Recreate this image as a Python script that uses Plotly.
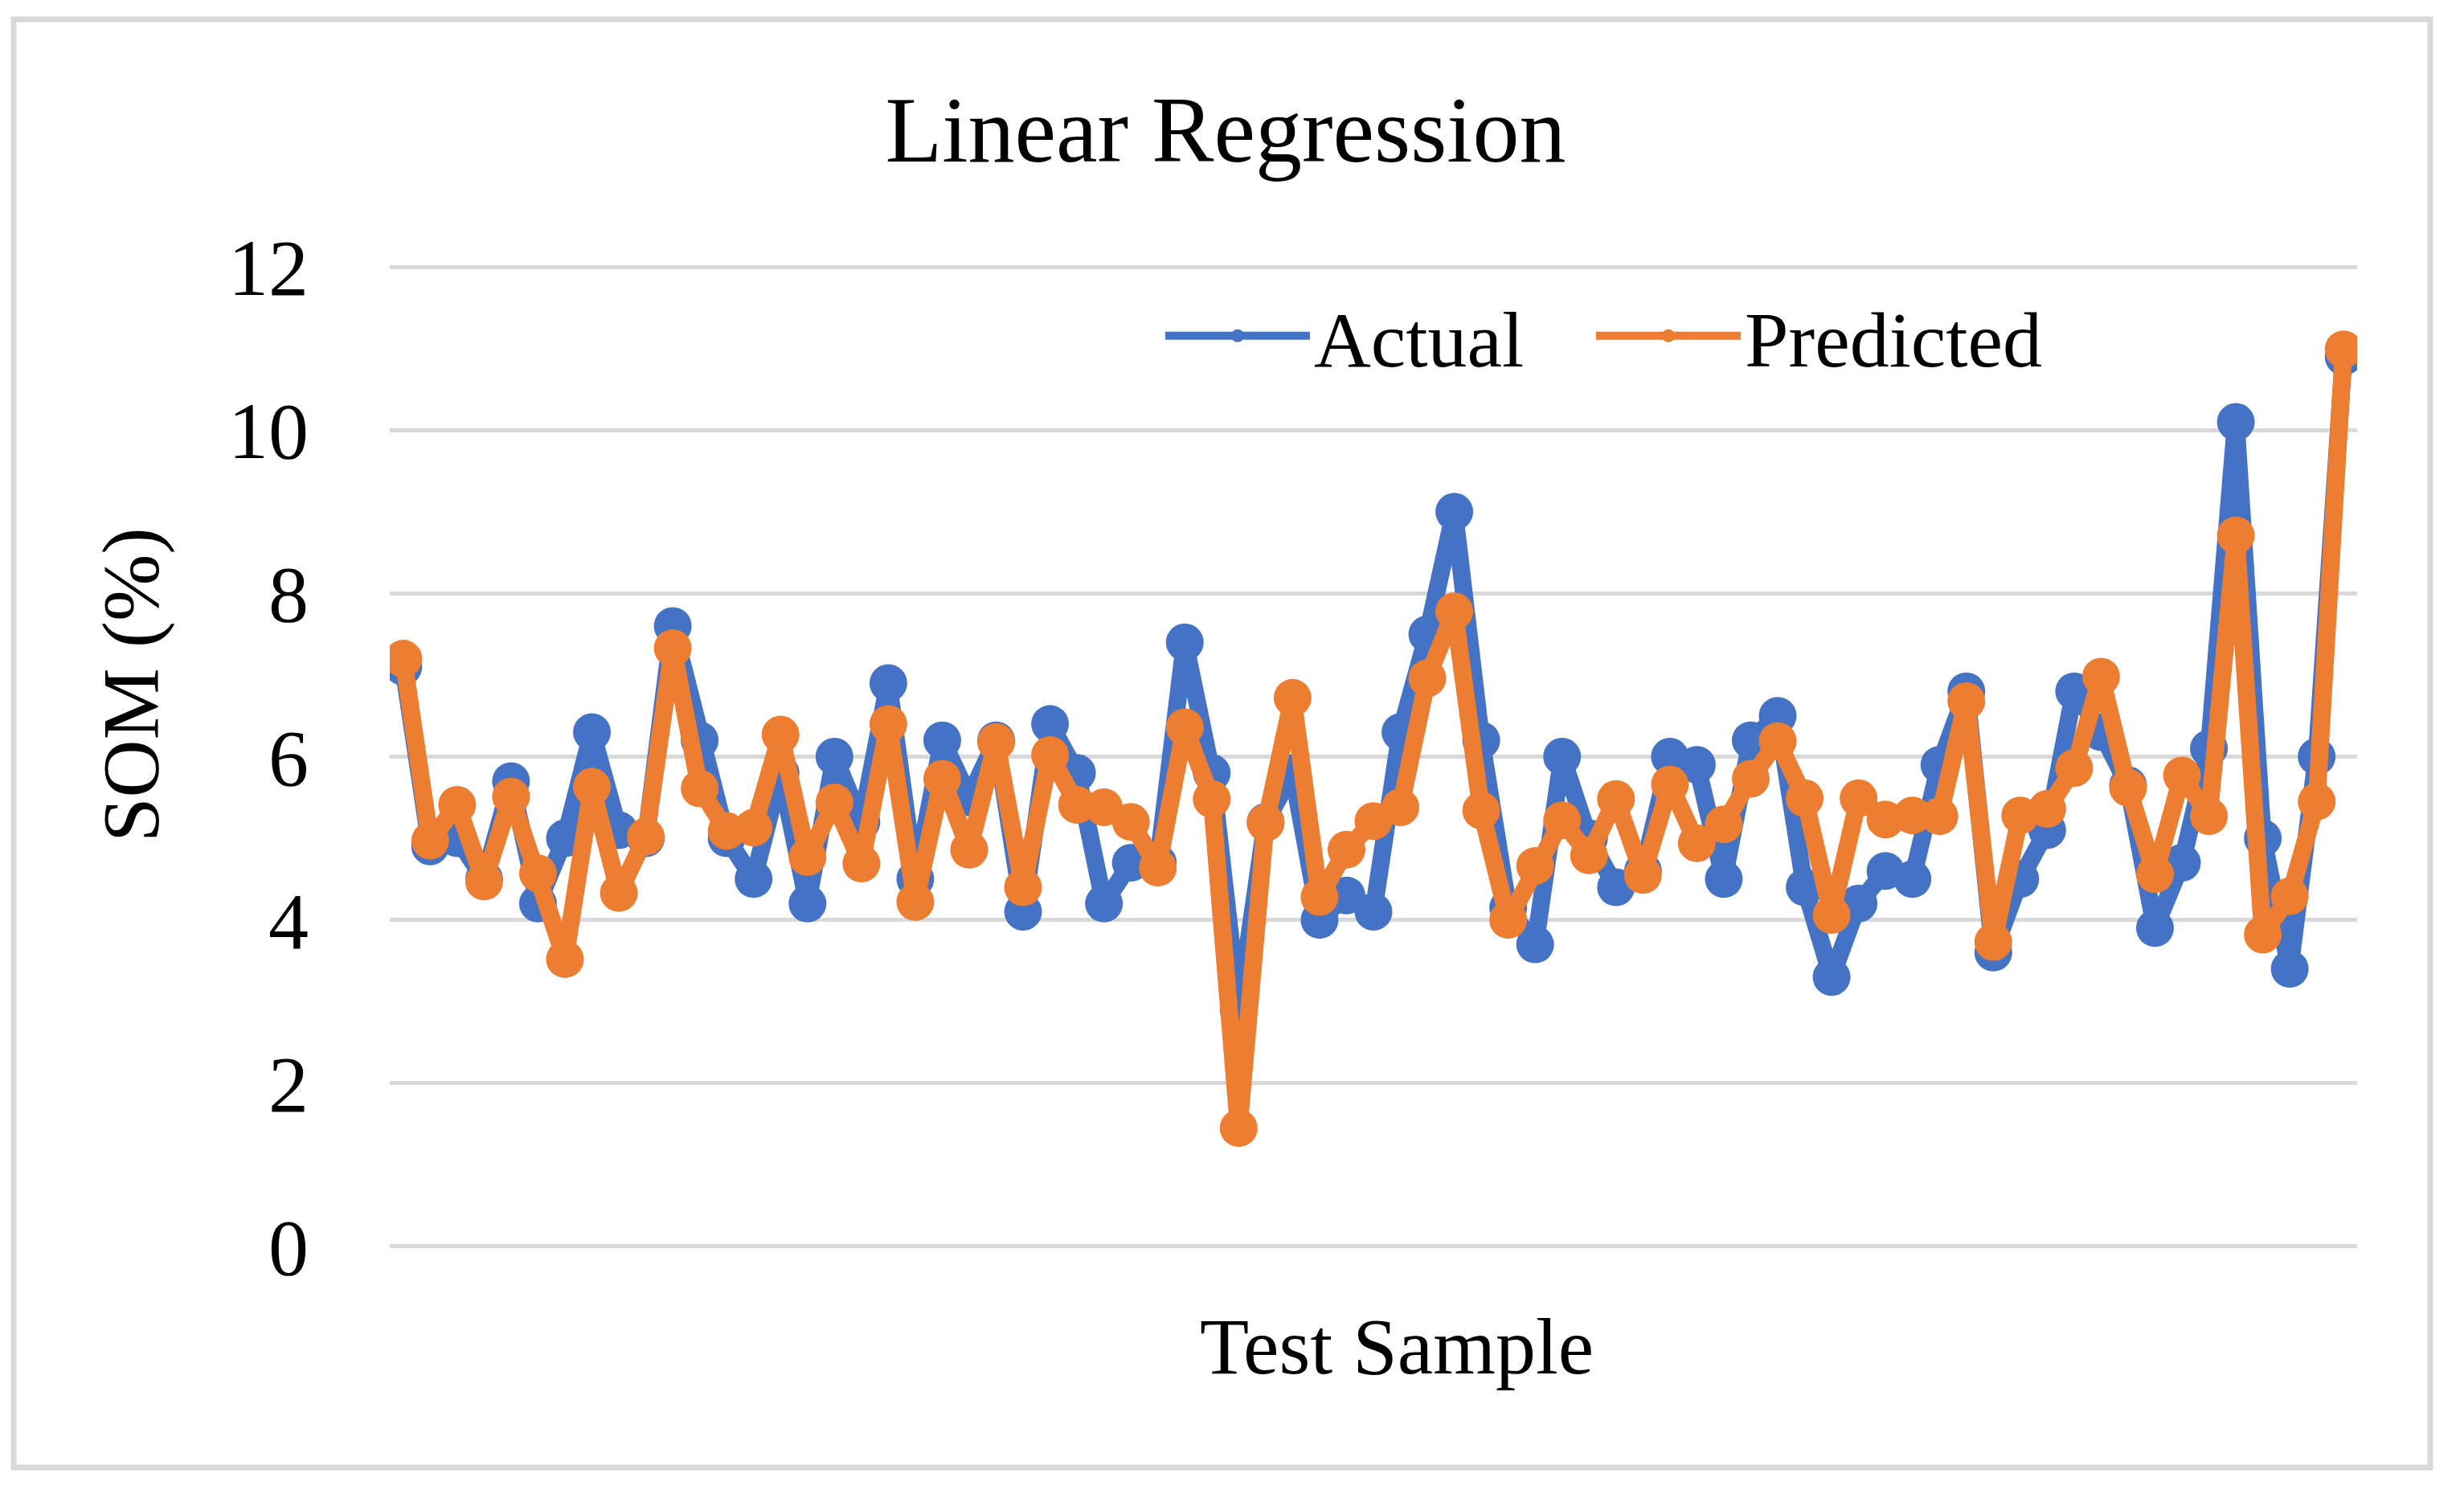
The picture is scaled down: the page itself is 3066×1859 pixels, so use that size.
import plotly.graph_objects as go

samples = list(range(1, 74))

actual = [7.1, 4.9, 5.0, 4.5, 5.7, 4.2, 5.0, 6.3, 5.1, 5.0,
          7.6, 6.2, 5.0, 4.5, 5.8, 4.2, 6.0, 5.2, 6.9, 4.5,
          6.2, 5.5, 6.2, 4.1, 6.4, 5.8, 4.2, 4.7, 4.7, 7.4,
          5.8, 2.9, 5.2, 5.8, 4.0, 4.3, 4.1, 6.3, 7.5, 9.0,
          6.2, 4.15, 3.7, 6.0, 5.0, 4.4, 4.6, 6.0, 5.9, 4.5,
          6.2, 6.5, 4.4, 3.3, 4.2, 4.6, 4.5, 5.9, 6.8, 3.6,
          4.5, 5.1, 6.8, 6.3, 5.65, 3.9, 4.7, 6.1, 10.1, 5.0,
          3.4, 6.0, 10.9]

predicted = [7.2, 4.97, 5.41, 4.47, 5.51, 4.57, 3.52, 5.63, 4.33, 5.02,
             7.33, 5.61, 5.09, 5.13, 6.27, 4.77, 5.44, 4.69, 6.4, 4.22,
             5.73, 4.86, 6.18, 4.40, 6.02, 5.41, 5.38, 5.20, 4.64, 6.36,
             5.48, 1.45, 5.19, 6.72, 4.28, 4.86, 5.21, 5.38, 6.96, 7.78,
             5.34, 4.0, 4.66, 5.22, 4.79, 5.48, 4.55, 5.66, 4.94, 5.17,
             5.73, 6.19, 5.49, 4.06, 5.49, 5.23, 5.28, 5.27, 6.68, 3.73,
             5.28, 5.36, 5.86, 6.98, 5.62, 4.56, 5.77, 5.27, 8.71, 3.82,
             4.29, 5.45, 10.99]

y_ticks = [0, 2, 4, 6, 8, 10, 12]
y_min, y_max = 0, 12

FONT = "Liberation Serif"
BLUE = "#4472C4"
ORANGE = "#ED7D31"
GRID = "#D9D9D9"

fig = go.Figure()
fig.add_trace(go.Scatter(x=samples, y=actual, name="Actual", mode="lines+markers",
                         line=dict(color=BLUE, width=22),
                         marker=dict(color=BLUE, size=47), legend="legend"))
fig.add_trace(go.Scatter(x=samples, y=predicted, name="Predicted", mode="lines+markers",
                         line=dict(color=ORANGE, width=22),
                         marker=dict(color=ORANGE, size=47), legend="legend2"))

# page has an ~8px body margin; compensate so the plot lands where the reference has it
OFF = 8
W, H = 3066 - OFF, 1859 - OFF
PL, PR = 485, 2933                 # x extent of plot area (page px)
Y12, Y0 = 332, 1551                # page px of y=12 and y=0 gridlines
unit = (Y0 - Y12) / (y_max - y_min)
pad = 0.04                         # small range padding so edge gridlines get drawn
PT, PB = Y12 - pad * unit, Y0 + pad * unit
L, R, T, B = PL - OFF, 3066 - PR, PT - OFF, 1859 - PB
PW, PH = PR - PL, PB - PT


def px(xp):
    return (xp - PL) / PW


def py(yp):
    return (PB - yp) / PH


legend_common = dict(orientation="h", xanchor="left", yanchor="middle", y=py(418),
                     font=dict(family=FONT, size=98, color="black"),
                     bgcolor="rgba(0,0,0,0)", itemwidth=180)

fig.update_layout(
    width=W, height=H,
    margin=dict(l=L, r=R, t=T, b=B),
    paper_bgcolor="white", plot_bgcolor="white",
    font=dict(family=FONT, color="black", size=100),
    title=dict(text="Linear Regression", font=dict(family=FONT, size=116, color="black"),
               xref="paper", x=px(1525), xanchor="center",
               yref="container", y=1 - (160 - OFF) / H, yanchor="middle"),
    showlegend=True,
    legend=dict(x=px(1445), **legend_common),
    legend2=dict(x=px(1981), **legend_common),
    xaxis=dict(range=[0.5, 73.5], showticklabels=False, showgrid=False, zeroline=False,
               showline=False, ticks=""),
    yaxis=dict(range=[y_min - pad, y_max + pad], tickvals=y_ticks, showgrid=True,
               gridcolor=GRID, gridwidth=5, zeroline=False, showline=False,
               ticks="outside", ticklen=80, tickcolor="rgba(0,0,0,0)",
               tickfont=dict(family=FONT, size=100, color="black")),
    annotations=[
        dict(text="SOM (%)", textangle=-90, xref="paper", yref="paper",
             x=px(162), y=py(852), xanchor="center", yanchor="middle",
             showarrow=False, font=dict(family=FONT, size=100, color="black")),
        dict(text="Test Sample", xref="paper", yref="paper",
             x=px(1738), y=py(1676), xanchor="center", yanchor="middle",
             showarrow=False, font=dict(family=FONT, size=100, color="black")),
    ],
    shapes=[
        dict(type="rect", xref="paper", yref="paper",
             x0=px(17), x1=px(3024), y0=py(1826), y1=py(24),
             line=dict(color=GRID, width=7), fillcolor="rgba(0,0,0,0)", layer="below"),
    ],
)

fig.write_html("out.html")
